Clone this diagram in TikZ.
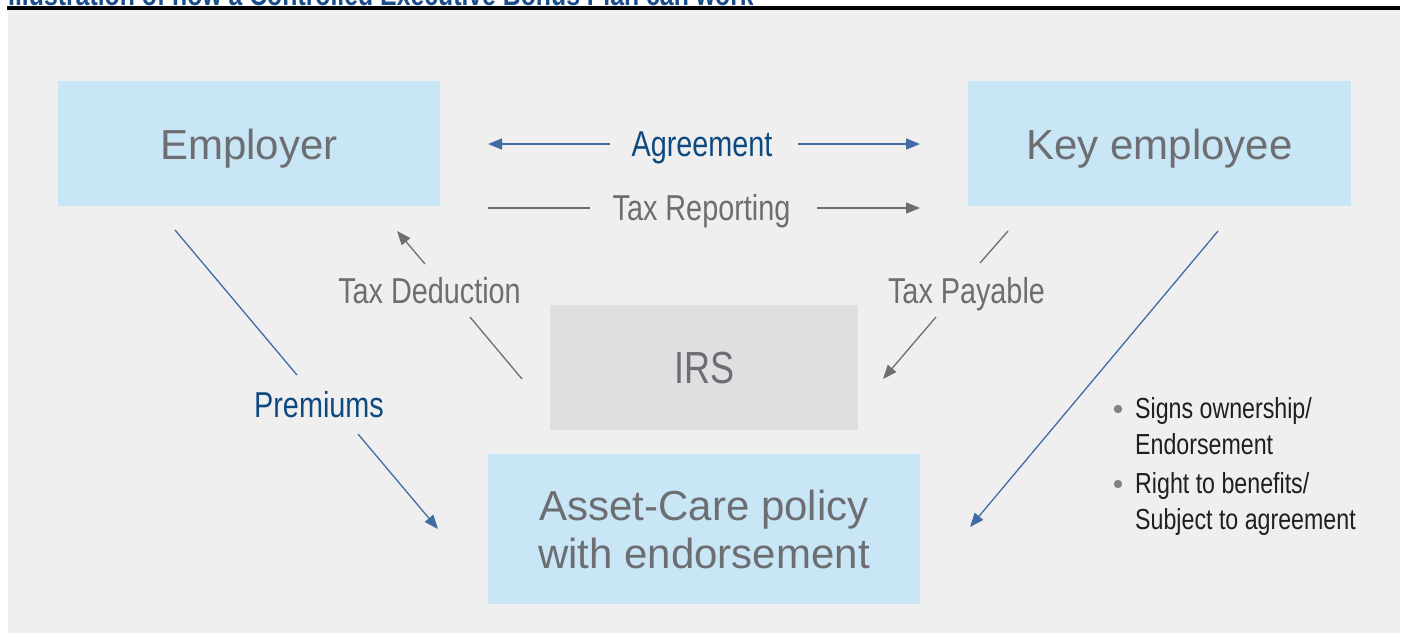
\documentclass[tikz,border=0pt]{standalone}
\usepackage{fontspec}
\setmainfont{Liberation Sans}
\newfontfamily\condf[FakeStretch=0.8]{Liberation Sans}
\usetikzlibrary{arrows.meta}
\definecolor{bgc}{HTML}{EFEFEF}
\definecolor{boxblue}{HTML}{C8E6F6}
\definecolor{boxgray}{HTML}{DEDFE0}
\definecolor{txtgray}{HTML}{6D6E71}
\definecolor{darkblue}{HTML}{0E4A80}
\definecolor{arrblue}{HTML}{3F6DA3}
\definecolor{arrgray}{HTML}{6D6E71}
\definecolor{bulgray}{HTML}{808285}
\definecolor{titleblue}{HTML}{1A4E8A}
\tikzset{
  bluebox/.style={fill=boxblue, inner sep=0pt, text=txtgray, font=\fontsize{42}{48}\selectfont, align=center},
  graybox/.style={fill=boxgray, inner sep=0pt, text=txtgray, font=\condf\fontsize{45}{50}\selectfont},
  lblgray/.style={inner sep=0pt, text=txtgray, font=\condf\fontsize{36}{40}\selectfont, anchor=base},
  lblblue/.style={inner sep=0pt, text=darkblue, font=\condf\fontsize{36}{40}\selectfont, anchor=base},
  bultxt/.style={inner sep=0pt, text=black!88, font=\condf\fontsize{29}{36}\selectfont, anchor=base west},
  bluearr/.style={draw=arrblue, line width=1.3pt, -{Triangle[length=14pt,width=11pt]}},
  grayarr/.style={draw=arrgray, line width=1.3pt, -{Triangle[length=14pt,width=11pt]}},
  grayline/.style={draw=arrgray, line width=1.3pt},
  blueline/.style={draw=arrblue, line width=1.3pt}
}
\begin{document}
\begin{tikzpicture}[x=1pt,y=-1pt]
\useasboundingbox (0,0) rectangle (1404,633);
% title (cut off at top) and rule
\node[inner sep=0pt, anchor=base west, text=titleblue, font=\condf\bfseries\fontsize{31}{34}\selectfont] (title) at (8,5) {Illustration of how a Controlled Executive Bonus Plan can work};
\fill[bgc] (8,9) rectangle (1400,633);
\fill[black] (7,6) rectangle (1400,9.5);
% boxes
\node[bluebox, minimum width=382pt, minimum height=125pt, text height=31pt, text depth=0pt] (emp) at (249,143.5) {Employer};
\node[bluebox, minimum width=383pt, minimum height=125pt, text height=31pt, text depth=0pt] (key) at (1159.5,143.5) {Key employee};
\node[graybox, minimum width=308pt, minimum height=125pt, text height=31pt, text depth=0pt] (irs) at (704,367.5) {IRS};
\node[bluebox, minimum width=432pt, minimum height=150pt] (pol) at (704,529) {Asset-Care policy\\with endorsement};
% labels
\node[lblblue] (agr) at (702,156) {Agreement};
\node[lblgray] (trep) at (701.5,220) {Tax Reporting};
\node[lblgray] (tded) at (429.5,303) {Tax Deduction};
\node[lblgray] (tpay) at (966.5,303) {Tax Payable};
\node[lblblue] (prem) at (319,417) {Premiums};
% bullets
\fill[bulgray] (1118,409) circle (4.2pt);
\fill[bulgray] (1118,484) circle (4.2pt);
\node[bultxt] (b1) at (1135,418) {Signs ownership/};
\node[bultxt] (b2) at (1135,454) {Endorsement};
\node[bultxt] (b3) at (1135,493) {Right to benefits/};
\node[bultxt] (b4) at (1135,529) {Subject to agreement};
% connector coordinates
\coordinate (agrA) at (610,144);
\coordinate (agrAt) at (488,144);
\coordinate (agrB) at (798,144);
\coordinate (agrBt) at (920,144);
\coordinate (trA) at (488,208);
\coordinate (trA2) at (590,208);
\coordinate (trB) at (817,208);
\coordinate (trBt) at (920,208);
\coordinate (tdA) at (522,379);
\coordinate (tdA2) at (470,317);
\coordinate (tdB) at (425,264);
\coordinate (tdBt) at (397,231);
\coordinate (tpA) at (1008,231);
\coordinate (tpA2) at (980,263);
\coordinate (tpB) at (936,317);
\coordinate (tpBt) at (883,379);
\coordinate (prA) at (175,230);
\coordinate (prA2) at (297,375);
\coordinate (prB) at (358,434);
\coordinate (prBt) at (438,529);
\coordinate (keA) at (1218,231);
\coordinate (keAt) at (970,527);
% connectors
\draw[bluearr] (agrA) -- (agrAt);
\draw[bluearr] (agrB) -- (agrBt);
\draw[grayline] (trA) -- (trA2);
\draw[grayarr] (trB) -- (trBt);
\draw[grayline] (tdA) -- (tdA2);
\draw[grayarr] (tdB) -- (tdBt);
\draw[grayline] (tpA) -- (tpA2);
\draw[grayarr] (tpB) -- (tpBt);
\draw[blueline] (prA) -- (prA2);
\draw[bluearr] (prB) -- (prBt);
\draw[bluearr] (keA) -- (keAt);
\end{tikzpicture}
\end{document}
